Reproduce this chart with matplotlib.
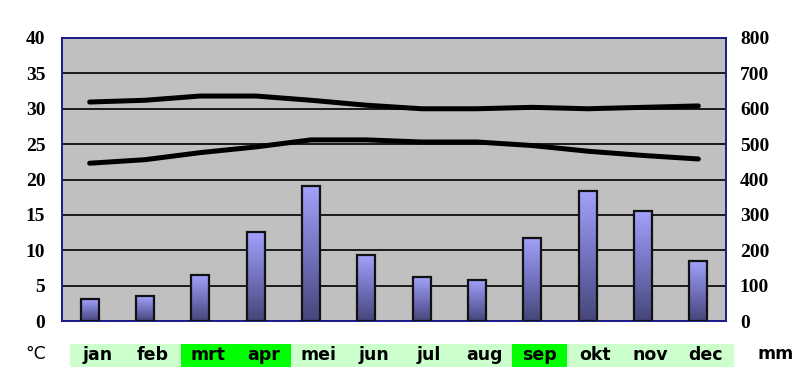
import numpy as np
import matplotlib
matplotlib.use("Agg")
import matplotlib.pyplot as plt
from matplotlib.patches import Rectangle
from matplotlib.colors import LinearSegmentedColormap

months = ["jan", "feb", "mrt", "apr", "mei", "jun", "jul", "aug", "sep", "okt", "nov", "dec"]
rain_mm = [62, 70, 131, 251, 382, 187, 124, 116, 235, 367, 311, 170]
t_max = [30.95, 31.2, 31.8, 31.8, 31.2, 30.5, 30.0, 30.0, 30.2, 30.0, 30.2, 30.4]
t_min = [22.3, 22.8, 23.8, 24.6, 25.6, 25.6, 25.3, 25.3, 24.8, 24.0, 23.4, 22.9]
highlight = ["mrt", "apr", "sep"]
left_ticks = [0, 5, 10, 15, 20, 25, 30, 35, 40]
right_ticks = [0, 100, 200, 300, 400, 500, 600, 700, 800]

W, H = 800, 391
fig = plt.figure(figsize=(W / 100, H / 100), dpi=100)
fig.patch.set_facecolor("white")

ax = fig.add_axes([62 / W, 1 - 321 / H, (726 - 62) / W, (321 - 38) / H])
ax.set_facecolor("#C0C0C0")
ax.set_xlim(-0.5, 11.5)
ax.set_ylim(0, 40)
ax.set_yticks(left_ticks)
ax.set_xticks([])
ax.yaxis.grid(True, color="#1a1a1a", linewidth=1.4)
ax.set_axisbelow(True)
ax.tick_params(axis="y", length=0, pad=12)
for lab in ax.get_yticklabels():
    lab.set_fontfamily("Liberation Serif")
    lab.set_fontweight("bold")
    lab.set_fontsize(14)
for s in ax.spines.values():
    s.set_color("#1a1a8c")
    s.set_linewidth(1.2)

ax2 = ax.twinx()
ax2.set_ylim(0, 800)
ax2.set_yticks(right_ticks)
ax2.tick_params(axis="y", length=0, pad=10)
for lab in ax2.get_yticklabels():
    lab.set_fontfamily("Liberation Serif")
    lab.set_fontweight("bold")
    lab.set_fontsize(14)
for s in ax2.spines.values():
    s.set_color("#1a1a8c")
    s.set_linewidth(1.2)
ax2.set_xlim(-0.5, 11.5)

x = np.arange(len(months))
cmap = LinearSegmentedColormap.from_list("barg", ["#46467a", "#7373c0", "#a2a2fc"])
grad = np.linspace(0, 1, 256).reshape(-1, 1)
bars = ax2.bar(x, rain_mm, width=0.33, facecolor="none", edgecolor="#111111", linewidth=1.6, zorder=3)
for b in bars:
    bx, by = b.get_x(), b.get_y()
    bw, bh = b.get_width(), b.get_height()
    im = ax2.imshow(grad, cmap=cmap, origin="lower", aspect="auto",
                    extent=[bx, bx + bw, by, by + bh], zorder=2)
    im.set_clip_path(b)
ax2.set_xlim(-0.5, 11.5)
ax2.set_ylim(0, 800)

ax.plot(x, t_max, color="black", linewidth=3.6, solid_capstyle="round", solid_joinstyle="round", zorder=4)
ax.plot(x, t_min, color="black", linewidth=3.6, solid_capstyle="round", solid_joinstyle="round", zorder=4)

# month label row
x0, cw = 70, 55.25
y_top, y_bot = 344, 367
for i, m in enumerate(months):
    col = "#00FF00" if m in highlight else "#CCFFCC"
    fig.patches.append(Rectangle(((x0 + i * cw) / W, 1 - y_bot / H), (cw + 0.6) / W, (y_bot - y_top) / H,
                                 transform=fig.transFigure, facecolor=col, edgecolor="none"))
    fig.text((x0 + (i + 0.5) * cw) / W, 1 - 355 / H, m, ha="center", va="center",
             fontsize=12.5, fontweight="bold", family="DejaVu Sans", color="black")

fig.text(36 / W, 1 - 354 / H, "°C", ha="center", va="center", fontsize=12.5, family="DejaVu Sans")
fig.text(776 / W, 1 - 354 / H, "mm", ha="center", va="center", fontsize=12.5, fontweight="bold", family="DejaVu Sans")

fig.savefig("out.png", dpi=100)
